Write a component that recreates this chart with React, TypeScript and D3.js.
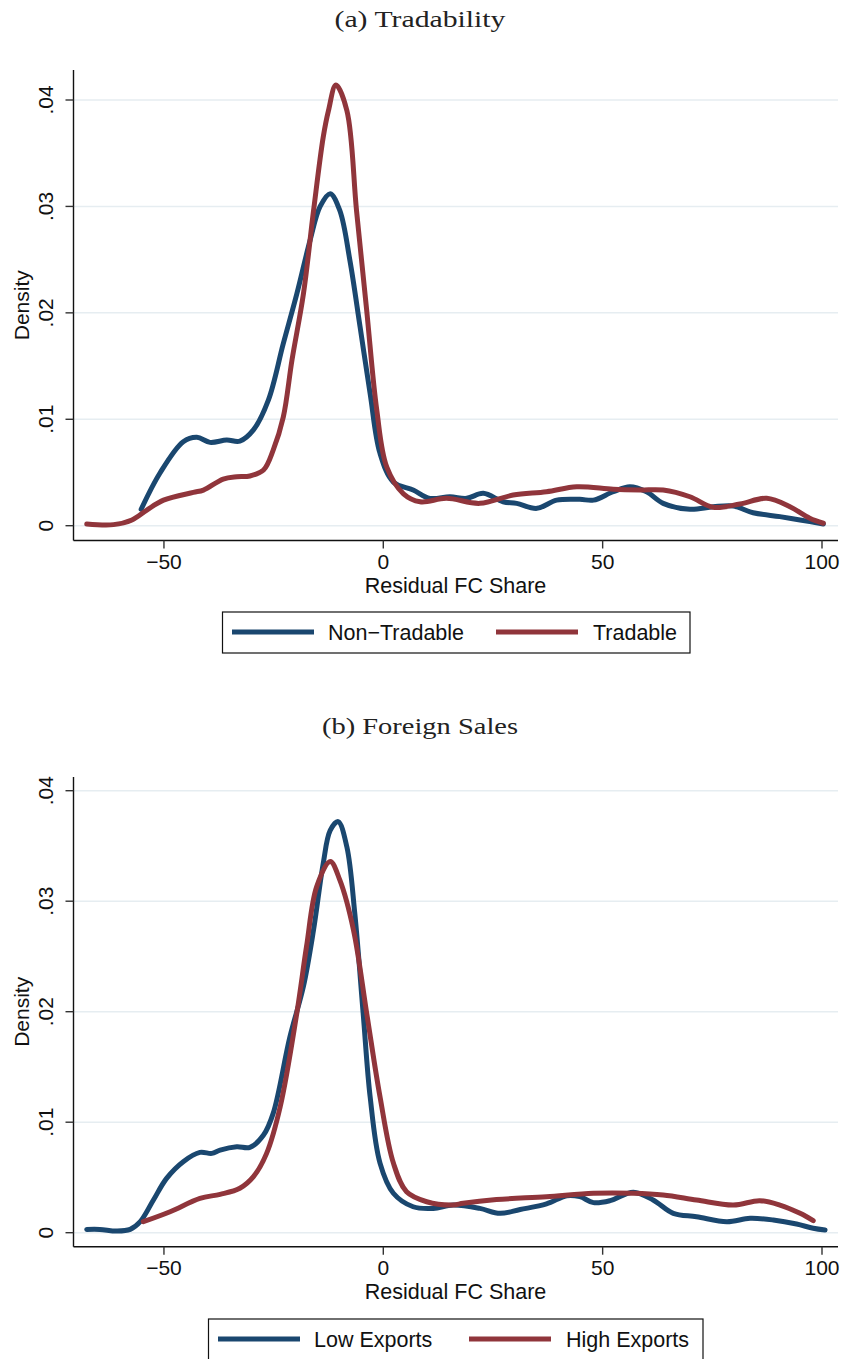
import React from 'react';
import * as d3 from 'd3';

// kernel density estimates: [residual FC share, density]
const nonTradable: [number, number][] = [
  [-55.2, 0.00154], [-50.9, 0.00495], [-45.6, 0.00789], [-42.5, 0.0083], [-39.5, 0.00783],
  [-35.7, 0.00805], [-32.7, 0.00795], [-29.6, 0.009], [-26.2, 0.0118], [-22.8, 0.0171],
  [-19.7, 0.0218], [-16.7, 0.0268], [-14.4, 0.03], [-12.1, 0.0312], [-9.9, 0.0296],
  [-7.6, 0.0249], [-5.3, 0.0187], [-3.0, 0.0124], [-0.75, 0.0068], [2.3, 0.0041],
  [6.8, 0.00335], [10.6, 0.00257], [15.2, 0.00272], [19.0, 0.00257], [22.8, 0.00304],
  [27.3, 0.00225], [30.4, 0.0021], [35.0, 0.00163], [39.5, 0.0024], [44.8, 0.00248],
  [47.9, 0.0024], [52.4, 0.00319], [56.2, 0.00366], [60.0, 0.00319], [63.8, 0.0021],
  [69.9, 0.00154], [75.2, 0.00178], [79.8, 0.00185], [84.3, 0.00122], [90.4, 0.00085],
  [95.0, 0.00054], [100.3, 0.00016],
];

const tradable: [number, number][] = [
  [-67.6, 0.00016], [-61.5, 0.0001], [-57.3, 0.00054], [-53.9, 0.00147], [-50.1, 0.0024],
  [-43.3, 0.00313], [-41.0, 0.00335], [-36.5, 0.00438], [-33.4, 0.0046], [-30.4, 0.00467],
  [-27.3, 0.00523], [-25.1, 0.0071], [-22.8, 0.0102], [-20.8, 0.0156], [-18.2, 0.0218],
  [-15.9, 0.0296], [-13.7, 0.0365], [-12.5, 0.039], [-10.8, 0.0414], [-8.3, 0.039],
  [-6.1, 0.0296], [-3.8, 0.0203], [-1.5, 0.0109], [0.8, 0.0055], [4.6, 0.003], [8.4, 0.00225],
  [14.4, 0.00257], [22.0, 0.0021], [29.6, 0.00288], [37.2, 0.00319], [44.1, 0.00366],
  [52.4, 0.00342], [58.5, 0.00335], [63.8, 0.00335], [69.9, 0.00272], [75.2, 0.00173],
  [81.3, 0.00204], [87.4, 0.00257], [92.7, 0.00178], [97.2, 0.0007], [100.3, 0.00023],
];

const lowExports: [number, number][] = [
  [-67.6, 0.0003], [-64.6, 0.0003], [-60.8, 0.00015], [-57.7, 0.0003], [-55.4, 0.001],
  [-52.4, 0.00296], [-49.4, 0.00492], [-45.6, 0.00643], [-41.8, 0.00727], [-39.1, 0.00718],
  [-37.2, 0.00748], [-33.4, 0.00778], [-30.4, 0.00772], [-27.3, 0.00884], [-25.1, 0.0108],
  [-21.3, 0.0177], [-18.2, 0.0223], [-15.9, 0.0274], [-13.7, 0.0334], [-12.1, 0.0364],
  [-10.3, 0.0372], [-8.3, 0.0349], [-6.5, 0.0289], [-4.6, 0.0199], [-3.0, 0.0123],
  [-0.75, 0.0063], [2.3, 0.00357], [6.8, 0.00235], [11.4, 0.0022], [15.9, 0.0025],
  [22.0, 0.0022], [26.6, 0.00175], [31.2, 0.0021], [37.2, 0.0026], [41.8, 0.00335],
  [44.8, 0.00326], [47.9, 0.00272], [51.7, 0.0029], [57.0, 0.00366], [61.5, 0.00296],
  [66.1, 0.00175], [71.4, 0.00145], [78.3, 0.001], [83.6, 0.0013], [88.9, 0.00115],
  [94.2, 0.00079], [98.0, 0.0004], [100.7, 0.00024],
];

const highExports: [number, number][] = [
  [-54.7, 0.001], [-48.6, 0.0019], [-41.8, 0.00311], [-37.2, 0.00347], [-32.7, 0.00402],
  [-29.6, 0.00507], [-26.6, 0.00718], [-23.5, 0.0114], [-19.7, 0.0199], [-17.5, 0.0259],
  [-15.2, 0.0313], [-12.1, 0.0336], [-9.9, 0.0319], [-6.8, 0.0274], [-3.8, 0.0199],
  [-0.75, 0.0123], [2.3, 0.0063], [5.3, 0.0037], [9.9, 0.0028], [15.9, 0.0025],
  [18.2, 0.00266], [25.8, 0.003], [37.2, 0.00326], [47.9, 0.00357], [57.0, 0.00357],
  [63.8, 0.00341], [71.4, 0.00296], [79.8, 0.0025], [85.8, 0.0029], [90.4, 0.0025],
  [95.0, 0.00175], [98.0, 0.00109],
];

const xTicks = [-50, 0, 50, 100];
const yTicks = [0, 0.01, 0.02, 0.03, 0.04];
const yTickLabels = ['0', '.01', '.02', '.03', '.04'];

const BLUE = '#1a476f';
const RED = '#90353b';
const GRID = '#e6edf1';
const SANS = 'Liberation Sans, Arial, sans-serif';
const SERIF = 'Liberation Serif, Times New Roman, serif';

const xScale = d3.scaleLinear().domain([0, 100]).range([383.3, 822]);

interface PanelProps {
  title: string;
  titleY: number;
  titleWidth: number;
  axisTop: number;
  axisBottom: number;
  y0: number; // pixel of density 0
  y04: number; // pixel of density .04
  series: { name: string; color: string; data: [number, number][] }[];
  legend: { left: number; right: number; top: number; lineStarts: number[]; textStarts: number[] };
}

const Panel: React.FC<PanelProps> = ({ title, titleY, titleWidth, axisTop, axisBottom, y0, y04, series, legend }) => {
  const yScale = d3.scaleLinear().domain([0, 0.04]).range([y0, y04]);
  const left = 73.5;
  const right = 838;
  const line = d3.line<[number, number]>()
    .x(d => xScale(d[0]))
    .y(d => yScale(d[1]))
    .curve(d3.curveCatmullRom.alpha(0.5));
  const midY = (axisTop + axisBottom) / 2;
  const legendMid = legend.top + 20;

  return (
    <g>
      <text x={420} y={titleY} textAnchor="middle" fontFamily={SERIF} fontSize={23}
        textLength={titleWidth} lengthAdjust="spacingAndGlyphs" fill="#222">{title}</text>

      {yTicks.map(t => (
        <line key={'g' + t} x1={left} x2={right} y1={yScale(t)} y2={yScale(t)} stroke={GRID} strokeWidth={1.5} />
      ))}

      {series.map(s => (
        <path key={s.name} d={line(s.data) ?? ''} fill="none" stroke={s.color} strokeWidth={5}
          strokeLinecap="round" strokeLinejoin="round" />
      ))}

      {/* axes */}
      <line x1={left} x2={left} y1={axisTop} y2={axisBottom} stroke="#111" strokeWidth={1.4} />
      <line x1={left} x2={right} y1={axisBottom} y2={axisBottom} stroke="#111" strokeWidth={1.4} />
      {yTicks.map((t, i) => (
        <g key={'y' + t}>
          <line x1={left - 8} x2={left} y1={yScale(t)} y2={yScale(t)} stroke="#333" strokeWidth={1.4} />
          <text transform={`translate(53,${yScale(t)}) rotate(-90)`} textAnchor="middle"
            fontFamily={SANS} fontSize={21} fill="#111">{yTickLabels[i]}</text>
        </g>
      ))}
      {xTicks.map(t => (
        <g key={'x' + t}>
          <line x1={xScale(t)} x2={xScale(t)} y1={axisBottom} y2={axisBottom + 8} stroke="#333" strokeWidth={1.4} />
          <text x={xScale(t)} y={axisBottom + 28} textAnchor="middle" fontFamily={SANS} fontSize={21}
            fill="#111">{t < 0 ? '\u2212' + Math.abs(t) : String(t)}</text>
        </g>
      ))}
      <text transform={`translate(29,${midY}) rotate(-90)`} textAnchor="middle" fontFamily={SANS}
        fontSize={21} fill="#111">Density</text>
      <text x={455.5} y={axisBottom + 52} textAnchor="middle" fontFamily={SANS} fontSize={21.5}
        fill="#111">Residual FC Share</text>

      {/* legend */}
      <rect x={legend.left} y={legend.top} width={legend.right - legend.left} height={41}
        fill="#fff" stroke="#111" strokeWidth={1.2} />
      {series.map((s, i) => (
        <g key={'l' + s.name}>
          <line x1={legend.lineStarts[i]} x2={legend.lineStarts[i] + 82} y1={legendMid} y2={legendMid}
            stroke={s.color} strokeWidth={5} />
          <text x={legend.textStarts[i]} y={legendMid + 7.5} fontFamily={SANS} fontSize={21.5}
            fill="#111">{s.name}</text>
        </g>
      ))}
    </g>
  );
};

export default function App() {
  return (
    <svg width={845} height={1359} style={{ position: 'absolute', left: 0, top: 0, background: '#fff' }}>
      <rect width={845} height={1359} fill="#fff" />
      <Panel
        title="(a) Tradability"
        titleY={27}
        titleWidth={171}
        axisTop={70}
        axisBottom={540.5}
        y0={525.7}
        y04={100}
        series={[
          { name: 'Non\u2212Tradable', color: BLUE, data: nonTradable },
          { name: 'Tradable', color: RED, data: tradable },
        ]}
        legend={{ left: 222.5, right: 690, top: 612, lineStarts: [232, 496], textStarts: [328, 593] }}
      />
      <Panel
        title="(b) Foreign Sales"
        titleY={734}
        titleWidth={196}
        axisTop={777}
        axisBottom={1246.7}
        y0={1232.7}
        y04={790.7}
        series={[
          { name: 'Low Exports', color: BLUE, data: lowExports },
          { name: 'High Exports', color: RED, data: highExports },
        ]}
        legend={{ left: 208.5, right: 703, top: 1319, lineStarts: [218, 469], textStarts: [314, 566] }}
      />
    </svg>
  );
}
